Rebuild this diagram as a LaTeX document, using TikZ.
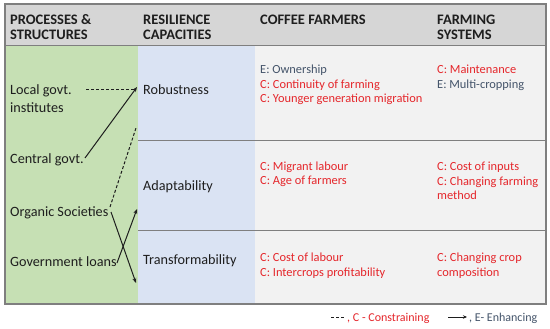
\documentclass[tikz,border=0pt]{standalone}
\usepackage{fontspec}
\setmainfont{Carlito}
\usetikzlibrary{arrows.meta}
\definecolor{hdr}{HTML}{D6D6D6}
\definecolor{grn}{HTML}{C6E0B4}
\definecolor{blu}{HTML}{DAE3F3}
\definecolor{rgt}{HTML}{F2F2F2}
\definecolor{frm}{HTML}{7F7F7F}
\definecolor{redc}{HTML}{E5262B}
\definecolor{bluc}{HTML}{44546A}
\definecolor{txt}{HTML}{1E1E1E}
\tikzset{
  hd/.style={anchor=base west, inner sep=0pt, font=\fontsize{14.5}{15}\selectfont\bfseries, text=txt, align=left},
  lt/.style={anchor=base west, inner sep=0pt, font=\fontsize{14.2}{18}\selectfont, text=txt, align=left},
  rt/.style={anchor=base west, inner sep=0pt, font=\fontsize{12.4}{14.6}\selectfont, align=left},
  cons/.style={dashed, dash pattern=on 3pt off 2pt, line width=1pt, txt},
  enh/.style={line width=1pt, txt, -{Stealth[length=5pt,width=4pt]}},
}
\begin{document}
\begin{tikzpicture}[x=1pt,y=-1pt]
\useasboundingbox (0,0) rectangle (550,329);
\fill[white] (0,0) rectangle (550,329);
% backgrounds
\fill[hdr] (5,4) rectangle (546,45);
\fill[grn] (5,45) rectangle (138,304);
\fill[blu] (138,45) rectangle (255,304);
\fill[rgt] (255,45) rectangle (546,304);
\draw[frm, line width=0.8pt] (5,45) -- (546,45);
\draw[frm, line width=1pt] (138,141) -- (546,141);
\draw[frm, line width=1pt] (138,231) -- (546,231);
\draw[frm, line width=1.3pt] (5,4) rectangle (546,304);
% headers (anchor = baseline of last line)
\node[hd] (h1) at (10,40) {PROCESSES \&\\STRUCTURES};
\node[hd] (h2) at (143,40) {RESILIENCE\\CAPACITIES};
\node[hd] (h3) at (260,25) {COFFEE FARMERS};
\node[hd] (h4) at (437,40) {FARMING\\SYSTEMS};
% left column
\node[lt] (local) at (10,113) {Local govt.\\institutes};
\node[lt] (central) at (10,164) {Central govt.};
\node[lt] (organic) at (10,216) {Organic Societies};
\node[lt] (loans) at (10,266) {Government loans};
% capacities
\node[lt] (rob) at (143,95) {Robustness};
\node[lt] (ada) at (143,191) {Adaptability};
\node[lt] (tra) at (143,265) {Transformability};
% right
\node[rt] (cf1) at (260,103) {\textcolor{bluc}{E: Ownership}\\\textcolor{redc}{C: Continuity of farming}\\\textcolor{redc}{C: Younger generation migration}};
\node[rt] (fs1) at (437,88.5) {\textcolor{redc}{C: Maintenance}\\\textcolor{bluc}{E: Multi-cropping}};
\node[rt,text=redc] (cf2) at (260,185) {C: Migrant labour\\C: Age of farmers};
\node[rt,text=redc] (fs2) at (437,200) {C: Cost of inputs\\C: Changing farming\\method};
\node[rt,text=redc] (cf3) at (260,276.5) {C: Cost of labour\\C: Intercrops profitability};
\node[rt,text=redc] (fs3) at (437,276.5) {C: Changing crop\\composition};
% connectors
\coordinate (lg) at (86,90);
\coordinate (rb) at (136,90);
\draw[cons] (lg) -- (rb);
\coordinate (cg) at (85,158);
\coordinate (rb2) at (137,87);
\draw[enh] (cg) -- (rb2);
\coordinate (os1) at (110,207);
\coordinate (rb3) at (136,128);
\draw[cons] (os1) -- (rb3);
\coordinate (os2) at (111,212);
\coordinate (tr) at (136,283);
\draw[enh] (os2) -- (tr);
\coordinate (gl) at (117,263);
\coordinate (ad) at (137,209);
\draw[enh] (gl) -- (ad);
% legend
\coordinate (l1a) at (331,317);
\coordinate (l1b) at (345,317);
\draw[cons, line width=0.9pt] (l1a) -- (l1b);
\node[rt, font=\fontsize{12}{12}\selectfont, text=redc] (leg1) at (347,321) {, C - Constraining};
\coordinate (l2a) at (448,317);
\coordinate (l2b) at (467,317);
\draw[enh, line width=0.9pt, -{Stealth[length=4pt,width=3.5pt]}] (l2a) -- (l2b);
\node[rt, font=\fontsize{12}{12}\selectfont, text=bluc] (leg2) at (469,321) {, E- Enhancing};
\end{tikzpicture}
\end{document}
